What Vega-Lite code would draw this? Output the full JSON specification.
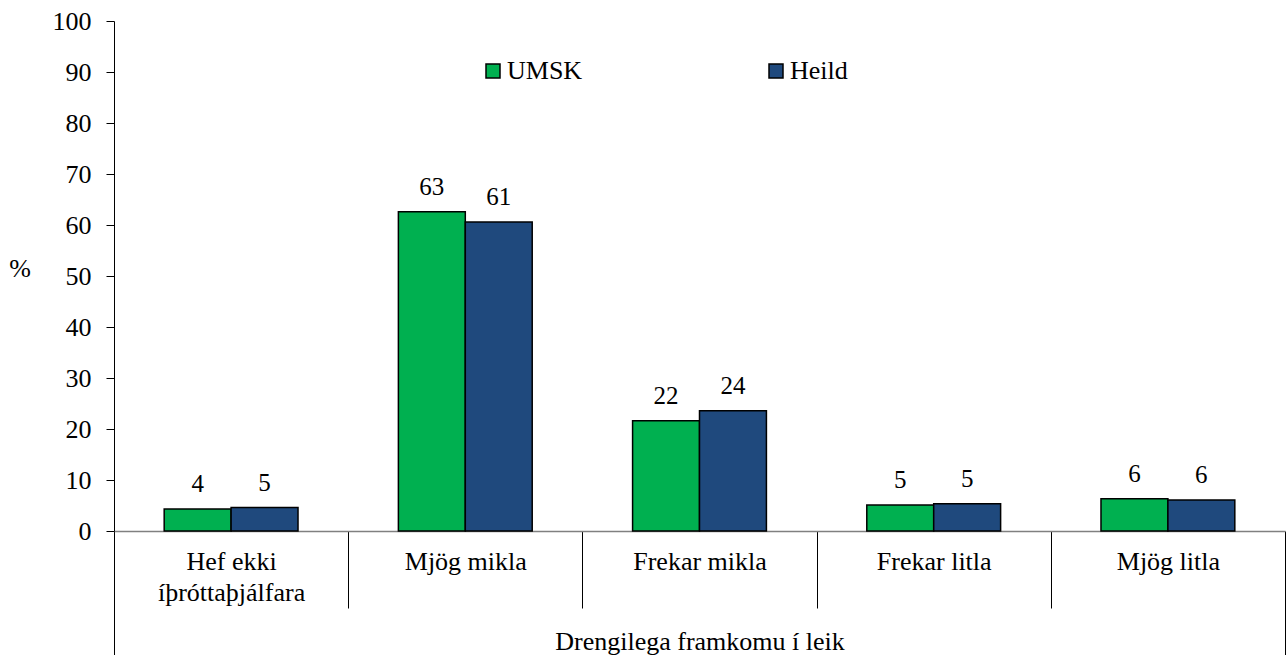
{
  "$schema": "https://vega.github.io/schema/vega-lite/v6.json",
  "width": 1171,
  "height": 510,
  "autosize": {"type": "none"},
  "padding": {"left": 114, "top": 21, "right": 3, "bottom": 124},
  "background": "white",
  "config": {"view": {"stroke": null}, "font": "'Liberation Serif', 'DejaVu Serif', serif"},
  "data": {
    "values": [
      {"cat": "Hef ekki íþróttaþjálfara", "series": "UMSK", "value": 4.3},
      {"cat": "Hef ekki íþróttaþjálfara", "series": "Heild", "value": 4.6},
      {"cat": "Mjög mikla", "series": "UMSK", "value": 62.6},
      {"cat": "Mjög mikla", "series": "Heild", "value": 60.6},
      {"cat": "Frekar mikla", "series": "UMSK", "value": 21.6},
      {"cat": "Frekar mikla", "series": "Heild", "value": 23.6},
      {"cat": "Frekar litla", "series": "UMSK", "value": 5.1},
      {"cat": "Frekar litla", "series": "Heild", "value": 5.35},
      {"cat": "Mjög litla", "series": "UMSK", "value": 6.3},
      {"cat": "Mjög litla", "series": "Heild", "value": 6.1}
    ]
  },
  "encoding": {
    "x": {
      "field": "cat",
      "type": "nominal",
      "sort": ["Hef ekki íþróttaþjálfara", "Mjög mikla", "Frekar mikla", "Frekar litla", "Mjög litla"],
      "scale": {"paddingInner": 0, "paddingOuter": 0},
      "axis": {
        "title": "Drengilega framkomu í leik",
        "titleFontSize": 26,
        "titleFontWeight": "normal",
        "titleColor": "black",
        "titleY": 118,
        "titleBaseline": "alphabetic",
        "labelAngle": 0,
        "labelFontSize": 26,
        "labelColor": "black",
        "labelLineHeight": 31,
        "labelExpr": "datum.value == 'Hef ekki íþróttaþjálfara' ? ['Hef ekki', 'íþróttaþjálfara'] : datum.value",
        "labelPadding": {"condition": {"test": "datum.extra || datum.index > 0.99", "value": -107}, "value": -60},
        "tickBand": "extent",
        "tickColor": "black",
        "tickWidth": 1,
        "tickSize": {"condition": {"test": "datum.extra || datum.index > 0.99", "value": 124}, "value": 77},
        "domainColor": "#808080",
        "domainWidth": 1.5
      }
    },
    "xOffset": {
      "field": "series",
      "type": "nominal",
      "sort": ["UMSK", "Heild"],
      "scale": {"paddingInner": 0, "paddingOuter": 0.75}
    },
    "y": {
      "field": "value",
      "type": "quantitative",
      "scale": {"domain": [0, 100], "nice": false},
      "axis": {
        "title": "%",
        "titleAngle": 0,
        "titleX": -94.5,
        "titleY": 247,
        "titleAlign": "center",
        "titleBaseline": "middle",
        "titleFontSize": 26,
        "titleFontWeight": "normal",
        "titleColor": "black",
        "values": [0, 10, 20, 30, 40, 50, 60, 70, 80, 90, 100],
        "tickSize": 8,
        "tickColor": "black",
        "labelPadding": 15,
        "labelFontSize": 26,
        "labelColor": "black",
        "domainColor": "black",
        "grid": false
      }
    }
  },
  "layer": [
    {
      "mark": {"type": "bar", "stroke": "black", "strokeWidth": 1.5},
      "encoding": {
        "color": {
          "field": "series",
          "type": "nominal",
          "sort": ["UMSK", "Heild"],
          "scale": {"range": ["#00B050", "#1F497D"]},
          "legend": {
            "title": null,
            "orient": "none",
            "direction": "horizontal",
            "legendX": 366,
            "legendY": 37,
            "symbolType": "square",
            "symbolSize": 196,
            "symbolStrokeColor": "black",
            "symbolStrokeWidth": 1.5,
            "labelFontSize": 26,
            "labelColor": "black",
            "labelOffset": 1,
            "columnPadding": 180,
            "padding": 0
          }
        }
      }
    },
    {
      "mark": {"type": "text", "dy": -17, "fontSize": 25, "baseline": "alphabetic", "color": "black"},
      "encoding": {"text": {"field": "value", "type": "quantitative", "format": ".0f"}}
    }
  ]
}
